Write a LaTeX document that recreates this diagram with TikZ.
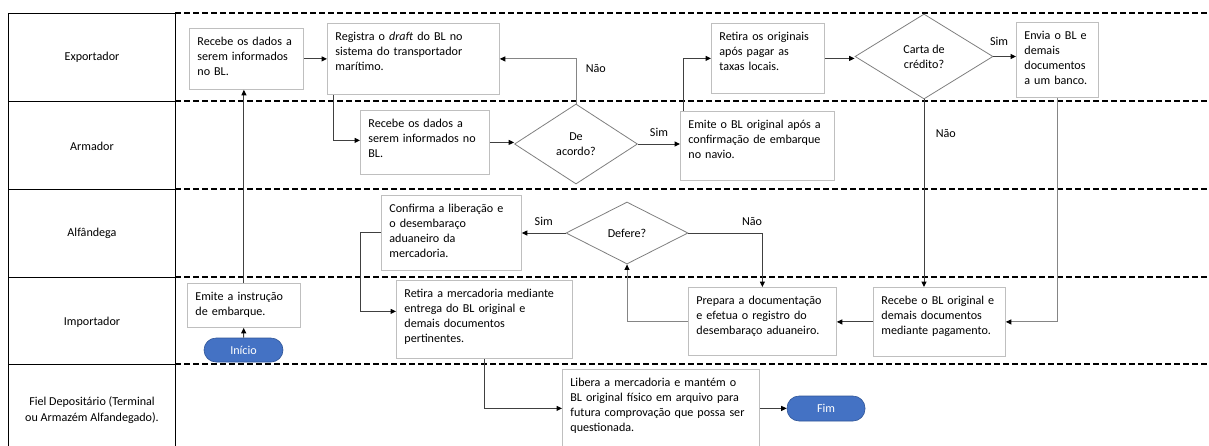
\documentclass[tikz,border=0pt]{standalone}
\usepackage{fontspec}
\setmainfont{Carlito}
\usepackage{tikz}
\usetikzlibrary{arrows.meta,shapes.geometric}
\definecolor{boxgray}{HTML}{BFBFBF}
\definecolor{diagray}{HTML}{7F7F7F}
\definecolor{linkdark}{HTML}{404040}
\definecolor{linkgray}{HTML}{858585}
\definecolor{pillblue}{HTML}{4472C4}
\definecolor{pilledge}{HTML}{2F5597}
\tikzset{every node/.append style={font=\fontsize{12.1}{15.3}\selectfont},
  caixa/.style={draw=boxgray,line width=.8pt,anchor=north west,align=left,inner xsep=8pt,inner ysep=7pt,text height=9.6pt,
    execute at begin node={\rightskip=-10pt plus 1fil\relax}},
  decisao/.style={diamond,draw=diagray,line width=.8pt,inner sep=0pt,align=center},
  pilula/.style={rounded corners=12pt,fill=pillblue,draw=pilledge,line width=.6pt,text=white,minimum width=79pt,minimum height=24pt},
  seta/.style={draw=linkdark,line width=1pt,-{Triangle[length=5.5pt,width=5pt,color=black]}},
  setag/.style={seta,draw=linkgray}}

\begin{document}
\begin{tikzpicture}[x=1pt,y=-1pt]
\useasboundingbox (0,0) rectangle (1209,445);
\clip (0,0) rectangle (1209,445);
% raias
\foreach \y in {13,101,189,277,364} \draw[line width=1.5pt,dash pattern=on 6pt off 3pt] (175,\y) -- (1209,\y);
\draw[line width=.9pt] (8,460) |- (175,13) -- (175,460);
\foreach \y in {101,189,277,364} \draw[line width=.9pt] (8,\y) -- (175,\y);
\node (exp) at (92,57) {Exportador};
\node (arm) at (92,146) {Armador};
\node (alf) at (92,233) {Alfândega};
\node (imp) at (92,322) {Importador};
\node[align=center] (fiel) at (92,410) {Fiel Depositário (Terminal\\ou Armazém Alfandegado).};
% etapas
\node[caixa,text width=98pt,text depth=37.4pt] (rec1) at (189,28) {Recebe os dados a\\serem informados\\no BL.};
\node[caixa,text width=156pt,text depth=47.4pt] (reg) at (327,23) {Registra o \textit{draft} do BL no\\sistema do transportador\\marítimo.};
\node[caixa,text width=113pt,text depth=40.4pt] (rec2) at (360,110) {Recebe os dados a\\serem informados no\\BL.};
\node[decisao,minimum width=123pt,minimum height=80pt] (acordo) at (576,144) {De\\acordo?};
\node[caixa,text width=138pt,text depth=45.4pt] (bl) at (680,111) {Emite o BL original após a\\confirmação de embarque\\no navio.};
\node[caixa,text width=97pt,text depth=46.4pt] (ret) at (711,23) {Retira os originais\\após pagar as\\taxas locais.};
\node[decisao,minimum width=138pt,minimum height=85pt] (carta) at (924,56.5) {Carta de\\crédito?};
\node[caixa,text width=66pt,text depth=51.4pt] (env) at (1016,22) {Envia o BL e\\demais\\documentos\\a um banco.};
\node[caixa,text width=124pt,text depth=51.4pt] (conf) at (381,195) {Confirma a liberação e\\o desembaraço\\aduaneiro da\\mercadoria.};
\node[decisao,minimum width=122pt,minimum height=62pt] (defere) at (627,233) {Defere?};
\node[caixa,text width=132pt,text depth=44.4pt] (prep) at (688,287) {Prepara a documentação\\e efetua o registro do\\desembaraço aduaneiro.};
\node[caixa,text width=116pt,text depth=45.4pt] (recbl) at (873,287) {Recebe o BL original e\\demais documentos\\mediante pagamento.};
\node[caixa,text width=97pt,text depth=20.4pt] (emi) at (187,283) {Emite a instrução\\de embarque.};
\node[pilula] (ini) at (243.5,350) {Início};
\node[caixa,text width=160pt,text depth=54.4pt] (retm) at (396,280) {Retira a mercadoria mediante\\entrega do BL original e\\demais documentos\\pertinentes.};
\node[caixa,text width=181pt,text depth=54.4pt] (lib) at (562,369) {Libera a mercadoria e mantém o\\BL original físico em arquivo para\\futura comprovação que possa ser\\questionada.};
\node[pilula,minimum width=78pt,minimum height=25pt] (fim) at (826,408.5) {Fim};
% fluxo
\draw[seta] (ini) -- (emi);
\draw[seta] (emi.north) -- (emi.north |- rec1.south);
\draw[seta] (rec1.east) -- (rec1.east -| reg.west);
\draw[seta] ([xshift=6pt]reg.south west) |- ([yshift=2pt]rec2.west);
\draw[seta] (rec2.east) -- (rec2.east -| acordo.west);
\draw[setag] (acordo.north) |- (reg.east) node[pos=.39,right=6pt] {Não};
\draw[seta] (acordo.east) -- (acordo.east -| bl.west) node[midway,above=4pt] {Sim};
\draw[seta] ([xshift=3pt]bl.north west) |- (ret.west);
\draw[seta] (ret.east) -- (ret.east -| carta.west);
\draw[seta] (carta.east) -- (carta.east -| env.west) node[pos=.25,above=7pt] {Sim};
\draw[seta] (carta.south) -- (carta.south |- recbl.north) node[pos=.18,right=8pt] {Não};
\draw[setag] (env.south) |- (recbl.east);
\draw[seta] (recbl.west) -- (recbl.west -| prep.east);
\draw[setag] (prep.west) -| (defere.south);
\draw[seta] (defere.east) -| (prep.north) node[pos=.43,above=4pt] {Não};
\draw[seta] (defere.west) -- (defere.west -| conf.east) node[midway,above=4pt] {Sim};
\draw[seta] (conf.west) -- ++(-21,0) |- ([yshift=8pt]retm.west);
\draw[seta] (retm.south) |- (lib.west);
\draw[seta] (lib.east) -- (lib.east -| fim.west);
\end{tikzpicture}
\end{document}
